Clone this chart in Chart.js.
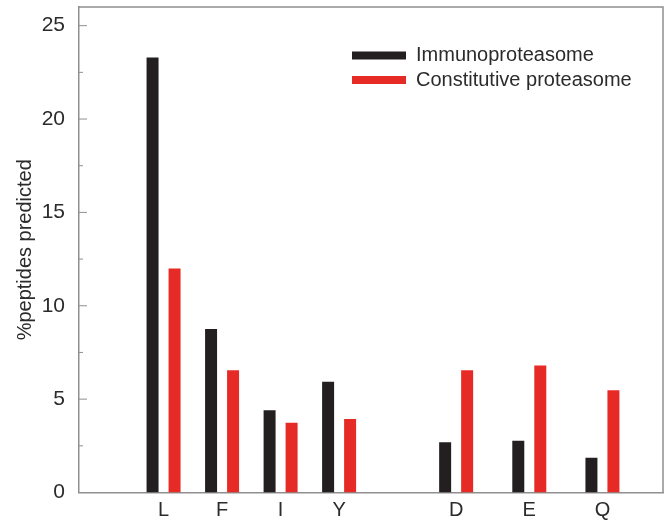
<!DOCTYPE html>
<html lang="en">

<head>
  <meta charset="UTF-8">
  <title>%peptides predicted</title>
  <style>
    html, body { margin: 0; padding: 0; background: #fff; }
    #wrap { width: 667px; height: 521px; }
  </style>
</head>

<body>
  <div id="wrap">
    <canvas id="chart-canvas" width="667" height="521"></canvas>
  </div>

  <script src="https://cdn.jsdelivr.net/npm/chart.js@4.4.8/dist/chart.umd.min.js"></script>
  <script>
    // data
    const categories = ['L', 'F', 'I', 'Y', 'D', 'E', 'Q'];
    const immunoproteasome = [23.3, 8.75, 4.4, 5.93, 2.69, 2.77, 1.86];
    const constitutive = [12.0, 6.55, 3.73, 3.93, 6.55, 6.8, 5.47];
    const yTicks = [0, 5, 10, 15, 20, 25];
    const yMinorTicks = [2.5, 7.5, 12.5, 17.5, 22.5];

    // horizontal slot of each residue (the figure leaves a gap between Y and D)
    const slots = [0, 4, 8, 12, 20, 25, 30];

    const FONT = '"Liberation Sans", Arial, sans-serif';
    const AXIS_GREY = '#8f8f8f';
    const TEXT = '#2b2b2b';

    // box round the plot, inward tick marks and the legend
    const framePlugin = {
      id: 'frame',
      afterDraw(chart) {
        const { ctx, chartArea: a, scales } = chart;
        ctx.save();
        ctx.strokeStyle = AXIS_GREY;
        ctx.lineWidth = 1.5;
        ctx.beginPath();
        ctx.moveTo(a.left, a.top);
        ctx.lineTo(a.right, a.top);
        ctx.lineTo(a.right, a.bottom);
        ctx.stroke();

        ctx.lineWidth = 1;
        ctx.beginPath();
        yTicks.forEach(v => {
          const y = scales.y.getPixelForValue(v);
          ctx.moveTo(a.left, y);
          ctx.lineTo(a.left + 8, y);
        });
        yMinorTicks.forEach(v => {
          const y = scales.y.getPixelForValue(v);
          ctx.moveTo(a.left, y);
          ctx.lineTo(a.left + 4, y);
        });
        ctx.stroke();

        // legend
        ctx.font = '20px ' + FONT;
        ctx.textBaseline = 'middle';
        ctx.textAlign = 'left';
        chart.data.datasets.forEach((ds, i) => {
          const y = 55.5 + i * 24.5;
          ctx.fillStyle = ds.backgroundColor;
          ctx.fillRect(352, y - 4, 54, 8);
          ctx.fillStyle = TEXT;
          ctx.fillText(ds.label, 416, y);
        });
        ctx.restore();
      }
    };

    const context = document.getElementById('chart-canvas').getContext('2d');

    const chart = new Chart(context, {
      type: 'bar',
      data: {
        datasets: [
          {
            label: 'Immunoproteasome',
            data: slots.map((s, i) => ({ x: s, y: immunoproteasome[i] })),
            backgroundColor: '#231f20'
          },
          {
            label: 'Constitutive proteasome',
            data: slots.map((s, i) => ({ x: s, y: constitutive[i] })),
            backgroundColor: '#e62a26'
          }
        ]
      },
      options: {
        responsive: false,
        animation: false,
        categoryPercentage: 0.752,
        barPercentage: 0.545,
        layout: {
          padding: { top: 7, right: 4, left: 0, bottom: 0 }
        },
        plugins: {
          legend: { display: false },
          tooltip: { enabled: false }
        },
        scales: {
          x: {
            type: 'linear',
            min: -5.78,
            max: 34.14,
            offset: false,
            afterBuildTicks: scale => {
              scale.ticks = slots.map(v => ({ value: v }));
            },
            afterFit: scale => {
              scale.height = 28.5;
              scale.paddingLeft = 0;
              scale.paddingRight = 0;
            },
            grid: { display: false, drawTicks: false },
            border: { color: AXIS_GREY, width: 1.5 },
            ticks: {
              autoSkip: false,
              maxRotation: 0,
              padding: 6,
              color: TEXT,
              font: { family: FONT, size: 20 },
              callback: v => categories[slots.indexOf(v)] ?? ''
            }
          },
          y: {
            min: 0,
            max: 26,
            afterBuildTicks: scale => {
              scale.ticks = yTicks.map(v => ({ value: v }));
            },
            afterFit: scale => {
              scale.width = 79;
              scale.paddingTop = 0;
              scale.paddingBottom = 0;
            },
            grid: { display: false, drawTicks: false },
            border: { color: AXIS_GREY, width: 1.5 },
            ticks: {
              padding: 14,
              color: TEXT,
              font: { family: FONT, size: 21 }
            },
            title: {
              display: true,
              text: '%peptides predicted',
              color: TEXT,
              padding: { top: 13, bottom: 0 },
              font: { family: FONT, size: 20 }
            }
          }
        }
      },
      plugins: [framePlugin]
    });
  </script>
</body>

</html>
